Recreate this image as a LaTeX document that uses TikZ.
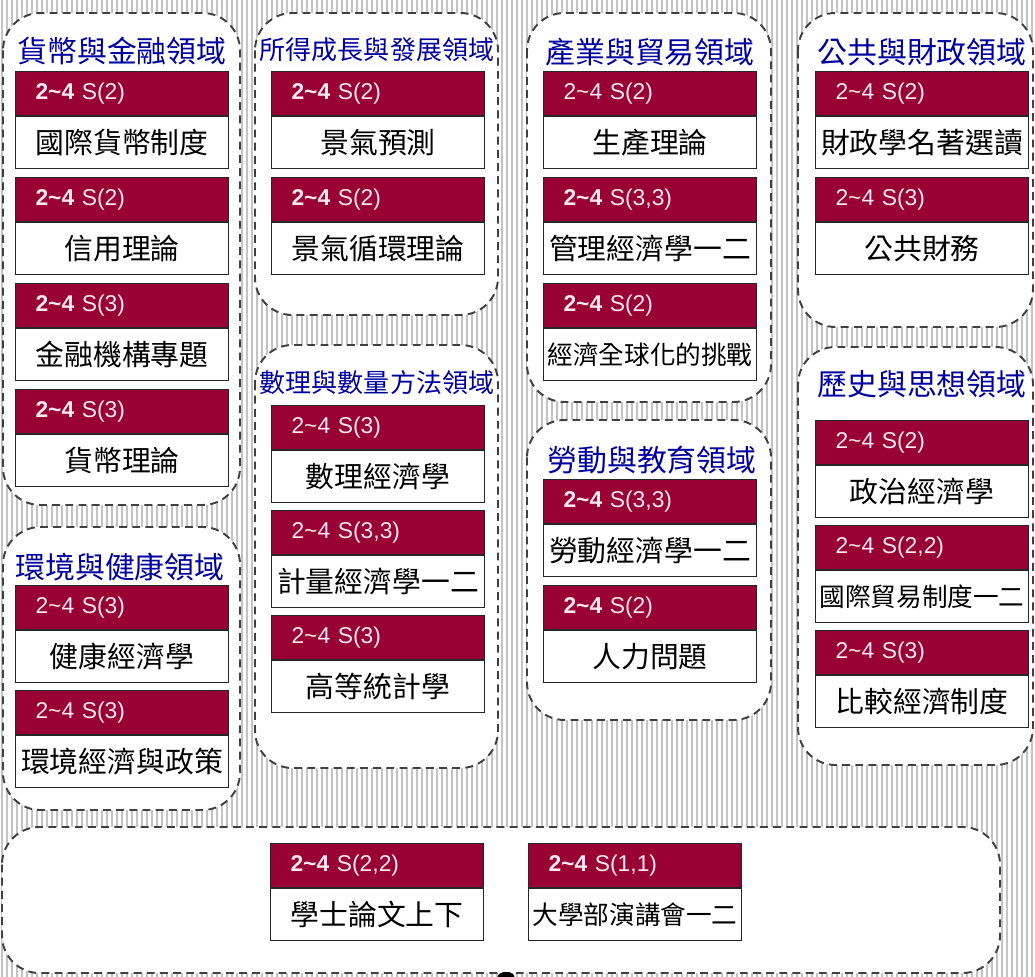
\documentclass[tikz,border=0pt]{standalone}
\usepackage{fontspec}
\setmainfont{Liberation Sans}
\newfontfamily\cjk{Noto Sans CJK TC}
\usepackage{xcolor}
\usetikzlibrary{positioning}
\definecolor{maroon}{RGB}{153,0,51}
\definecolor{headtext}{RGB}{255,232,242}
\definecolor{areablue}{RGB}{0,0,160}
\definecolor{stripegray}{RGB}{195,195,195}

\begin{document}
\begin{tikzpicture}[x=0.02cm,y=-0.02cm,
                    stripe/.style={stripegray,line width=0.85pt},
                    area/.style={draw=black!75,fill=white,line width=1.1pt,dash pattern=on 4.5pt off 3pt,rounded corners=0.75cm},
                    title/.style={text=areablue,inner sep=0pt,font=\cjk\fontsize{17}{17}\selectfont},
                    long title/.style={title,font=\cjk\fontsize{14.8}{14.8}\selectfont},
                    head/.style={draw=black!85,fill=maroon,text=headtext,anchor=north west,minimum height=0.88cm,
                                 text width=3.46cm,inner xsep=0.4cm,inner ysep=0pt,align=left,line width=0.6pt,
                                 font=\fontsize{13}{13}\selectfont},
                    body/.style={draw=black!85,fill=white,minimum width=4.26cm,minimum height=1.04cm,inner sep=0pt,
                                 line width=0.6pt,font=\cjk\fontsize{16.4}{16.4}\selectfont},
                    long body/.style={body,font=\cjk\fontsize{14.6}{14.6}\selectfont}]
\useasboundingbox (0,0) rectangle (1035,977);
\fill[white] (0,0) rectangle (1035,977);

% background stripes
\foreach \i in {2,7,...,1035}
  \draw[stripe] (\i,0) -- (\i,977);

% areas
\draw[area] (3,13) rectangle (240,505);
\draw[area] (3,527) rectangle (240,810);
\draw[area] (255,13) rectangle (498,315);
\draw[area] (255,345) rectangle (498,768);
\draw[area] (527,13) rectangle (771,402);
\draw[area] (527,420) rectangle (771,720);
\draw[area] (798,13) rectangle (1033,327);
\draw[area] (798,347) rectangle (1033,765);
\draw[area] (2,827) rectangle (1000,973);
\fill[black] (506,977) ellipse [x radius=0.17cm, y radius=0.1cm];

\node[title] (money) at (122,51) {貨幣與金融領域};
\node[title] (env) at (120,567) {環境與健康領域};
\node[long title] (growth) at (377,50) {所得成長與發展領域};
\node[long title] (quant) at (377,383) {數理與數量方法領域};
\node[title] (trade) at (650,52) {產業與貿易領域};
\node[title] (labor) at (652,460) {勞動與教育領域};
\node[title] (public) at (922,52) {公共與財政領域};
\node[title] (hist) at (922,384) {歷史與思想領域};

% money
\node[head] (h1) at (15,71) {{\bfseries 2\textasciitilde 4} S(2)};
\node[body] (b1) [below=0pt of h1] {國際貨幣制度};
\node[head] (h2) at (15,177) {{\bfseries 2\textasciitilde 4} S(2)};
\node[body] (b2) [below=0pt of h2] {信用理論};
\node[head] (h3) at (15,283) {{\bfseries 2\textasciitilde 4} S(3)};
\node[body] (b3) [below=0pt of h3] {金融機構專題};
\node[head] (h4) at (15,389) {{\bfseries 2\textasciitilde 4} S(3)};
\node[body] (b4) [below=0pt of h4] {貨幣理論};

% env
\node[head] (h5) at (15,585) {2\textasciitilde 4 S(3)};
\node[body] (b5) [below=0pt of h5] {健康經濟學};
\node[head] (h6) at (15,690) {2\textasciitilde 4 S(3)};
\node[body] (b6) [below=0pt of h6] {環境經濟與政策};

% growth
\node[head] (h7) at (271,71) {{\bfseries 2\textasciitilde 4} S(2)};
\node[body] (b7) [below=0pt of h7] {景氣預測};
\node[head] (h8) at (271,177) {{\bfseries 2\textasciitilde 4} S(2)};
\node[body] (b8) [below=0pt of h8] {景氣循環理論};

% quant
\node[head] (h9) at (271,405) {2\textasciitilde 4 S(3)};
\node[body] (b9) [below=0pt of h9] {數理經濟學};
\node[head] (h10) at (271,510) {2\textasciitilde 4 S(3,3)};
\node[body] (b10) [below=0pt of h10] {計量經濟學一二};
\node[head] (h11) at (271,615) {2\textasciitilde 4 S(3)};
\node[body] (b11) [below=0pt of h11] {高等統計學};

% trade
\node[head] (h12) at (543,71) {2\textasciitilde 4 S(2)};
\node[body] (b12) [below=0pt of h12] {生產理論};
\node[head] (h13) at (543,177) {{\bfseries 2\textasciitilde 4} S(3,3)};
\node[body] (b13) [below=0pt of h13] {管理經濟學一二};
\node[head] (h14) at (543,283) {{\bfseries 2\textasciitilde 4} S(2)};
\node[long body] (b14) [below=0pt of h14] {經濟全球化的挑戰};

% labor
\node[head] (h15) at (543,479) {{\bfseries 2\textasciitilde 4} S(3,3)};
\node[body] (b15) [below=0pt of h15] {勞動經濟學一二};
\node[head] (h16) at (543,585) {{\bfseries 2\textasciitilde 4} S(2)};
\node[body] (b16) [below=0pt of h16] {人力問題};

% public
\node[head] (h17) at (815,71) {2\textasciitilde 4 S(2)};
\node[body] (b17) [below=0pt of h17] {財政學名著選讀};
\node[head] (h18) at (815,177) {2\textasciitilde 4 S(3)};
\node[body] (b18) [below=0pt of h18] {公共財務};

% hist
\node[head] (h19) at (815,420) {2\textasciitilde 4 S(2)};
\node[body] (b19) [below=0pt of h19] {政治經濟學};
\node[head] (h20) at (815,525) {2\textasciitilde 4 S(2,2)};
\node[long body] (b20) [below=0pt of h20] {國際貿易制度一二};
\node[head] (h21) at (815,630) {2\textasciitilde 4 S(3)};
\node[body] (b21) [below=0pt of h21] {比較經濟制度};

% bottom
\node[head] (h22) at (270,843) {{\bfseries 2\textasciitilde 4} S(2,2)};
\node[body] (b22) [below=0pt of h22] {學士論文上下};
\node[head] (h23) at (528,843) {{\bfseries 2\textasciitilde 4} S(1,1)};
\node[long body] (b23) [below=0pt of h23] {大學部演講會一二};

\end{tikzpicture}
\end{document}
